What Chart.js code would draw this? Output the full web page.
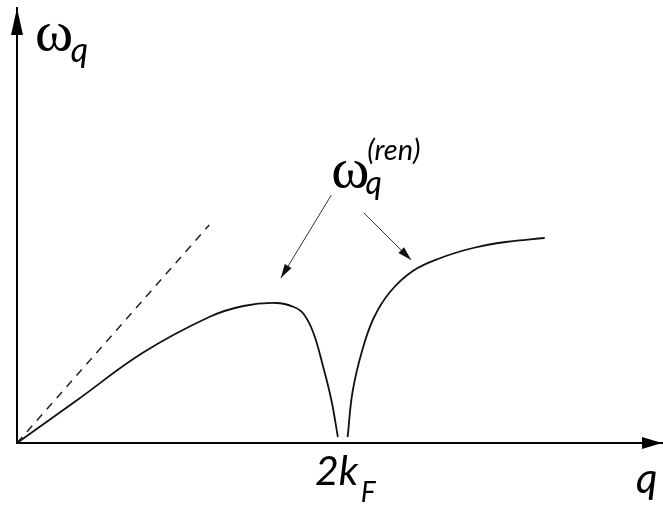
<!DOCTYPE html>
<html>
<head>
<meta charset="utf-8">
<script src="https://cdn.jsdelivr.net/npm/chart.js@4.4.1/dist/chart.umd.min.js"></script>
<style>
  html, body { margin: 0; padding: 0; background: #fff; }
  #wrap { width: 663px; height: 508px; }
</style>
</head>
<body>
<div id="wrap"><canvas id="myCanvas"></canvas></div>
<script>
// dispersion below 2kF (q, omega)
const lowQ = [0, 0.37, 0.77, 1.18, 1.39, 1.59, 1.70, 1.76, 1.82, 1.88, 1.93, 1.97];
const lowW = [0, 0.43, 0.90, 1.26, 1.37, 1.40, 1.36, 1.29, 1.10, 0.76, 0.43, 0.06];
// dispersion above 2kF
const highQ = [2.03, 2.06, 2.12, 2.19, 2.29, 2.43, 2.60, 2.80, 3.00, 3.24];
const highW = [0.06, 0.51, 0.93, 1.25, 1.51, 1.72, 1.85, 1.95, 2.01, 2.05];
// bare linear dispersion (dashed)
const bareQ = [0, 1.18];
const bareW = [0, 2.18];
// pointer arrows [fromQ, fromW, toQ, toW]
const pointers = [[1.93, 2.48, 1.62, 1.65], [2.13, 2.30, 2.42, 1.83]];

const xMax = 3.96, yMax = 4.35;

function pts(xs, ys) { return xs.map((x, i) => ({ x: x, y: ys[i] })); }

// arrow heads on the axes, the pointers and all the labels
const decor = {
  id: 'decor',
  afterDraw(chart) {
    const ctx = chart.ctx, xs = chart.scales.x, ys = chart.scales.y;
    const px = v => xs.getPixelForValue(v), py = v => ys.getPixelForValue(v);
    const x0 = px(0), y0 = py(0), xEnd = px(xMax), yEnd = py(yMax);
    ctx.save();
    ctx.fillStyle = '#000';
    // y axis head
    ctx.beginPath();
    ctx.moveTo(x0, yEnd);
    ctx.lineTo(x0 - 6, yEnd + 27);
    ctx.lineTo(x0 + 6, yEnd + 27);
    ctx.closePath(); ctx.fill();
    // x axis head
    ctx.beginPath();
    ctx.moveTo(xEnd, y0);
    ctx.lineTo(xEnd - 20, y0 - 6);
    ctx.lineTo(xEnd - 20, y0 + 6);
    ctx.closePath(); ctx.fill();

    // pointers
    ctx.strokeStyle = '#333';
    ctx.fillStyle = '#111';
    ctx.lineWidth = 1;
    pointers.forEach(p => {
      const ax = px(p[0]), ay = py(p[1]), bx = px(p[2]), by = py(p[3]);
      const a = Math.atan2(by - ay, bx - ax);
      ctx.beginPath(); ctx.moveTo(ax, ay); ctx.lineTo(bx, by); ctx.stroke();
      ctx.beginPath();
      ctx.moveTo(bx, by);
      ctx.lineTo(bx - 14 * Math.cos(a) + 4 * Math.sin(a), by - 14 * Math.sin(a) - 4 * Math.cos(a));
      ctx.lineTo(bx - 14 * Math.cos(a) - 4 * Math.sin(a), by - 14 * Math.sin(a) + 4 * Math.cos(a));
      ctx.closePath(); ctx.fill();
    });

    // labels
    ctx.fillStyle = '#000';
    ctx.textBaseline = 'alphabetic';
    ctx.textAlign = 'left';
    const omega = '58px "Liberation Serif"';
    const ital = s => 'italic ' + s + 'px Lato';
    ctx.font = omega; ctx.fillText('ω', px(0.11), py(3.93));
    ctx.font = ital(34); ctx.fillText('q', px(0.33), py(3.81));

    ctx.font = omega; ctx.fillText('ω', px(1.93), py(2.56));
    ctx.font = ital(32); ctx.fillText('q', px(2.14), py(2.49));
    ctx.font = ital(29); ctx.fillText('(ren)', px(2.15), py(2.83));

    ctx.font = ital(41); ctx.fillText('2k', px(1.83), py(-0.42));
    ctx.font = ital(28); ctx.fillText('F', px(2.11), py(-0.59));
    ctx.font = ital(42); ctx.fillText('q', px(3.80), py(-0.50));
    ctx.restore();
  }
};

const ctx = document.getElementById('myCanvas').getContext('2d');
const myChart = new Chart(ctx, {
  type: 'line',
  data: {
    datasets: [
      { data: pts(lowQ, lowW), borderColor: '#111', borderWidth: 1.8, pointRadius: 0, tension: 0.4, clip: false },
      { data: pts(highQ, highW), borderColor: '#111', borderWidth: 1.8, pointRadius: 0, tension: 0.4, clip: false },
      { data: pts(bareQ, bareW), borderColor: '#222', borderWidth: 1.5, borderDash: [8, 7], pointRadius: 0, clip: false }
    ]
  },
  options: {
    responsive: true,
    maintainAspectRatio: false,
    animation: false,
    events: [],
    layout: { padding: { left: 17, right: 1, top: 8, bottom: 65 } },
    plugins: { legend: { display: false }, tooltip: { enabled: false } },
    scales: {
      x: {
        type: 'linear', min: 0, max: xMax,
        grid: { display: false, drawTicks: false },
        ticks: { display: false },
        border: { display: true, color: '#000', width: 2 }
      },
      y: {
        type: 'linear', min: 0, max: yMax,
        grid: { display: false, drawTicks: false },
        ticks: { display: false },
        border: { display: true, color: '#000', width: 2 }
      }
    }
  },
  plugins: [decor]
});
</script>
</body>
</html>
